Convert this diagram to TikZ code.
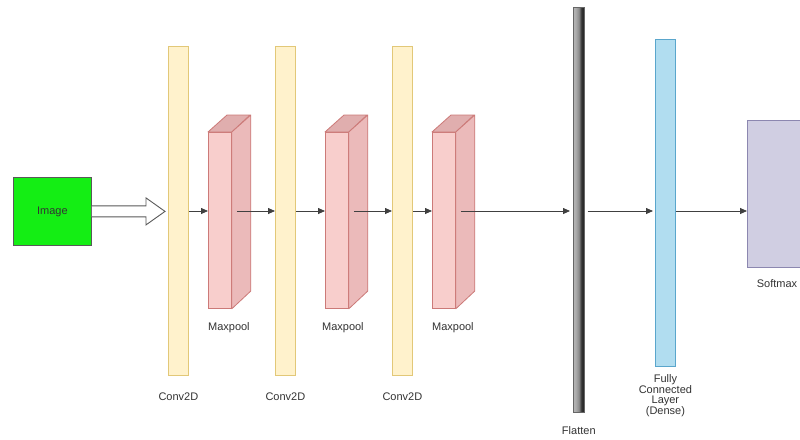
\documentclass[tikz,border=0pt]{standalone}
\usepackage{fontspec}
\setmainfont{Liberation Sans}
\usetikzlibrary{arrows.meta,calc}
\definecolor{convfill}{HTML}{FFF2CC}
\definecolor{convline}{HTML}{E2C878}
\definecolor{poolfill}{HTML}{F8CECC}
\definecolor{poolside}{HTML}{EBBABA}
\definecolor{pooltop}{HTML}{E0AEAE}
\definecolor{poolline}{HTML}{CC7A78}
\definecolor{imgfill}{HTML}{14EE14}
\definecolor{fcfill}{HTML}{B1DDF0}
\definecolor{fcline}{HTML}{5AA6CC}
\definecolor{smfill}{HTML}{D0CEE2}
\definecolor{smline}{HTML}{8C87B0}
\definecolor{labelgray}{HTML}{333333}
\pgfdeclarehorizontalshading{flatshade}{100bp}{
  color(0bp)=(black!22); color(35bp)=(black!32); color(50bp)=(black!45);
  color(62bp)=(black!80); color(78bp)=(black!88); color(100bp)=(black!50)}
\tikzset{
  conv/.style={draw=convline, fill=convfill, line width=0.8pt, minimum width=20pt, minimum height=329pt, anchor=north west, inner sep=0pt},
  poolface/.style={draw=poolline, fill=poolfill, line width=0.8pt, minimum width=23pt, minimum height=176pt, anchor=north west, inner sep=0pt},
  lbl/.style={font=\fontsize{11}{10.5}\selectfont, text=labelgray, align=center, inner sep=0pt},
  flow/.style={draw=black!75, line width=0.8pt, -{Triangle[length=7pt,width=6pt]}},
}
\newcommand{\poolbox}[3]{% name, x, y
  \node[poolface] (#1) at (#2,#3) {};
  \fill[pooltop, draw=poolline, line width=0.8pt, line join=round]
    (#1.north west) -- ++(19,-17) -- ++(23,0) -- (#1.north east) -- cycle;
  \fill[poolside, draw=poolline, line width=0.8pt, line join=round]
    (#1.north east) -- ++(19,-17) -- ++(0,176) -- (#1.south east) -- cycle;
}
\begin{document}
\begin{tikzpicture}[x=1pt,y=-1pt]
\useasboundingbox (0,0) rectangle (800,439);
\fill[white] (0,0) rectangle (800,439);

% input image
\node[draw=black!65, fill=imgfill, line width=0.8pt, minimum width=78pt, minimum height=68pt, anchor=north west, inner sep=0pt,
      font=\fontsize{11}{13}\selectfont, text=black!80] (img) at (13,177) {Image};

% convolution layers
\node[conv] (c1) at (168,46) {};
\node[conv] (c2) at (275,46) {};
\node[conv] (c3) at (392,46) {};
\node[lbl] at ($(c1.south)+(0,21)$) {Conv2D};
\node[lbl] at ($(c2.south)+(0,21)$) {Conv2D};
\node[lbl] at ($(c3.south)+(0,21)$) {Conv2D};

% pooling blocks
\poolbox{m1}{208}{132}
\poolbox{m2}{325}{132}
\poolbox{m3}{432}{132}
\node[lbl] at ($(m1.south)+(9,19)$) {Maxpool};
\node[lbl] at ($(m2.south)+(6,19)$) {Maxpool};
\node[lbl] at ($(m3.south)+(9,19)$) {Maxpool};

% flatten bar
\node[draw=black!60, line width=0.6pt, shading=flatshade, minimum width=11pt, minimum height=405pt, anchor=north west, inner sep=0pt] (fl) at (573,7) {};
\node[lbl] at ($(fl.south)+(0,18)$) {Flatten};

% dense layer
\node[draw=fcline, fill=fcfill, line width=0.8pt, minimum width=20pt, minimum height=327pt, anchor=north west, inner sep=0pt] (fc) at (655,39) {};
\node[lbl, anchor=north] at ($(fc.south)+(0,8)$) {Fully\\Connected\\Layer\\(Dense)};

% softmax output
\node[draw=smline, fill=smfill, line width=0.8pt, minimum width=70pt, minimum height=147pt, anchor=north west, inner sep=0pt] (sm) at (747,120) {};
\node[lbl] at (777,284) {Softmax};

% hollow input arrow
\draw[draw=black!65, fill=white, line width=0.9pt, line join=miter]
  ($(img.east)+(0,-5.5)$) -- ($(c1.west |- img.east)+(-22,-5.5)$) -- ($(c1.west |- img.east)+(-22,-13.5)$)
  -- ($(c1.west |- img.east)+(-3,0)$)
  -- ($(c1.west |- img.east)+(-22,13.5)$) -- ($(c1.west |- img.east)+(-22,5.5)$) -- ($(img.east)+(0,5.5)$);

% data flow
\coordinate (row) at (0,211);
\draw[flow] (c1.east |- row) -- (m1.west |- row);
\draw[flow] ($(m1.east |- row)+(5,0)$) -- (c2.west |- row);
\draw[flow] (c2.east |- row) -- (m2.west |- row);
\draw[flow] ($(m2.east |- row)+(5,0)$) -- (c3.west |- row);
\draw[flow] (c3.east |- row) -- (m3.west |- row);
\draw[flow] ($(m3.east |- row)+(5,0)$) -- ($(fl.west |- row)+(-3,0)$);
\draw[flow] ($(fl.east |- row)+(3,0)$) -- ($(fc.west |- row)+(-2,0)$);
\draw[flow] (fc.east |- row) -- (sm.west |- row);
\end{tikzpicture}
\end{document}
